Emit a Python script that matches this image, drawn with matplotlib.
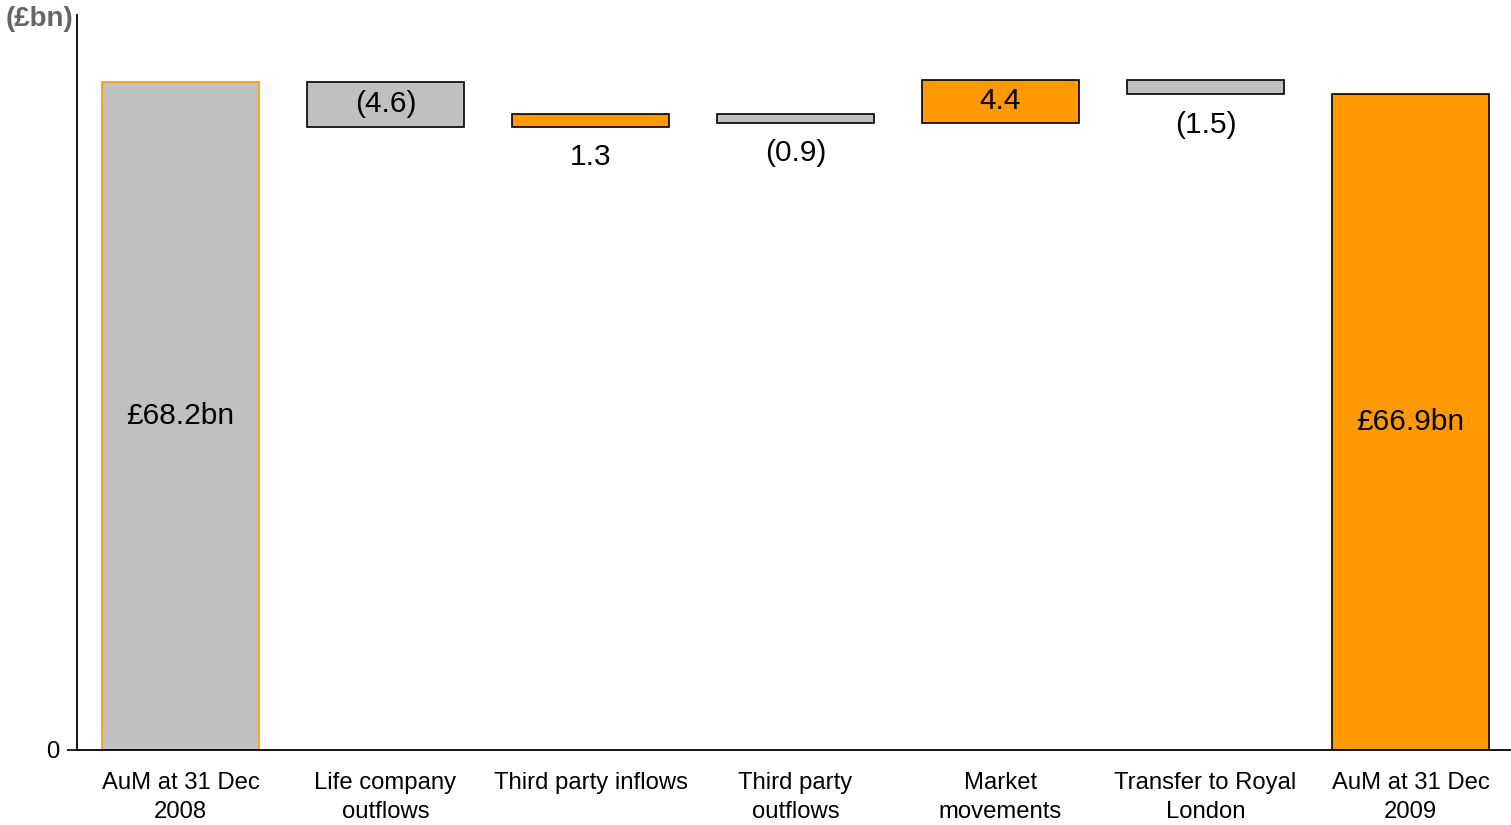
import matplotlib
matplotlib.use("Agg")
import matplotlib.pyplot as plt

plt.rcParams["font.family"] = ["Liberation Sans", "DejaVu Sans"]

categories = ["AuM at 31 Dec\n2008", "Life company\noutflows", "Third party inflows",
              "Third party\noutflows", "Market\nmovements", "Transfer to Royal\nLondon",
              "AuM at 31 Dec\n2009"]
opening = 68.2
changes = [-4.6, 1.3, -0.9, 4.4, -1.5]
closing = 66.9
value_labels = ["£68.2bn", "(4.6)", "1.3", "(0.9)", "4.4", "(1.5)", "£66.9bn"]
label_inside = [True, True, False, False, True, False, True]

GREY = "#C0C0C0"
ORANGE = "#FF9900"

fig = plt.figure(figsize=(15.11, 8.25), dpi=100)
ax = fig.add_axes([77 / 1511, 75 / 825, 1434 / 1511, 735 / 825])

width = 0.77
bottoms, heights, faces, edges = [], [], [], []

# opening total
bottoms.append(0); heights.append(opening); faces.append(GREY); edges.append(ORANGE)
level = opening
for c in changes:
    lo = min(level, level + c)
    bottoms.append(lo); heights.append(abs(c))
    faces.append(ORANGE if c > 0 else GREY); edges.append("black")
    level += c
# closing total
bottoms.append(0); heights.append(closing); faces.append(ORANGE); edges.append("black")

x = list(range(len(categories)))
ax.bar(x, heights, bottom=bottoms, width=width, color=faces, edgecolor=edges,
       linewidth=1.2, zorder=2)

for i, (b, h, lab, inside) in enumerate(zip(bottoms, heights, value_labels, label_inside)):
    if inside:
        ax.text(i, b + h / 2, lab, ha="center", va="center", fontsize=21.5, color="black")
    else:
        ax.annotate(lab, xy=(i, b), xytext=(0, -22), textcoords="offset points",
                    ha="center", va="center", fontsize=21.5, color="black")

ax.set_xlim(-0.505, 6.49)
ax.set_ylim(0, 75)
ax.set_xticks(x)
ax.set_xticklabels(categories, fontsize=17.2, linespacing=1.4)
ax.tick_params(axis="x", length=0, pad=16)
ax.set_yticks([0])
ax.set_yticklabels(["0"], fontsize=17.2)
ax.tick_params(axis="y", length=7, width=1.2, pad=6)

for s in ["top", "right"]:
    ax.spines[s].set_visible(False)
for s in ["left", "bottom"]:
    ax.spines[s].set_linewidth(1.3)
    ax.spines[s].set_color("black")

fig.text(6 / 1511, 1 - 19 / 825, "(£bn)", fontsize=20, fontweight="bold",
         color="#666666", ha="left", va="center")

fig.savefig("out.png", dpi=100)
